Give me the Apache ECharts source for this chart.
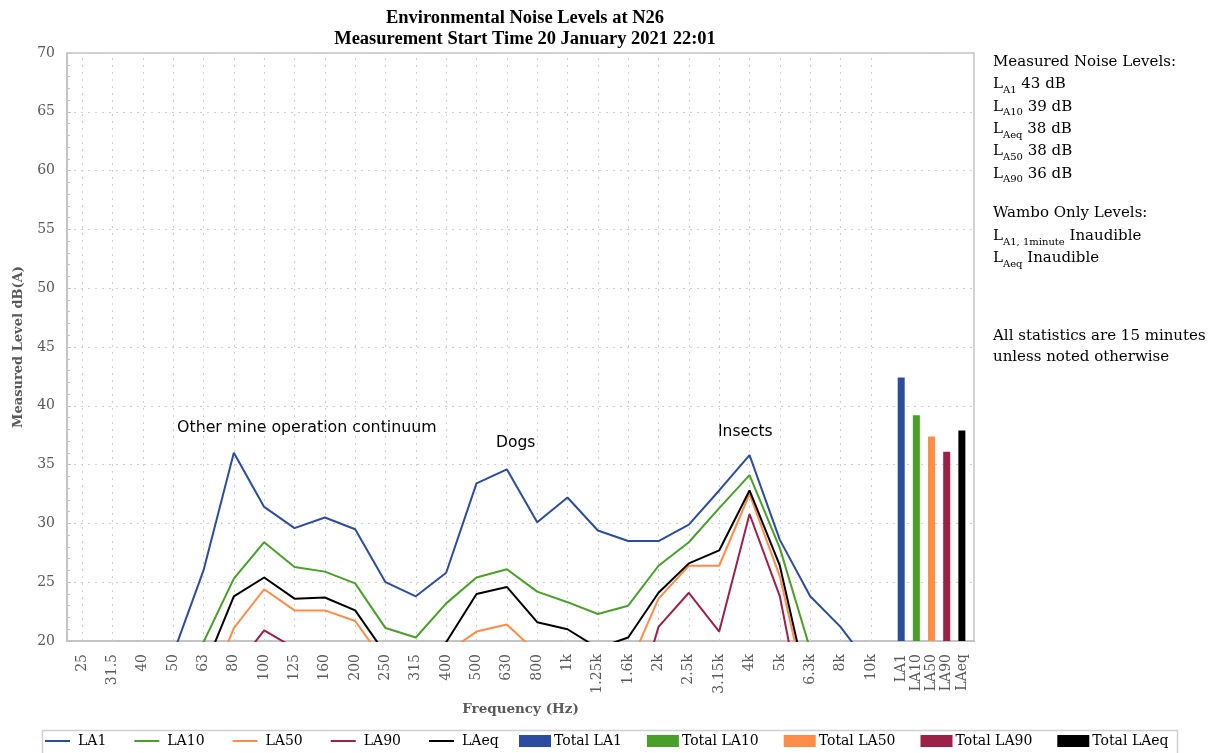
<!DOCTYPE html>
<html>
<head>
<meta charset="utf-8">
<title>Environmental Noise Levels at N26</title>
<script src="https://cdn.jsdelivr.net/npm/echarts@6/dist/echarts.min.js"></script>
<style>
  html, body { margin: 0; padding: 0; background: #fff; }
  #chart { width: 1220px; height: 753px; }
</style>
</head>
<body>
<div id="chart"></div>
<script>
// third-octave bands, then the overall totals
var freqLabels = ['25', '31.5', '40', '50', '63', '80', '100', '125', '160', '200', '250', '315', '400', '500',
  '630', '800', '1k', '1.25k', '1.6k', '2k', '2.5k', '3.15k', '4k', '5k', '6.3k', '8k', '10k'];
var totalLabels = ['LA1', 'LA10', 'LA50', 'LA90', 'LAeq'];

// dB(A) per band (values under 20 sit below the visible axis)
var la1 = [15, 16, 17, 18.9, 26.0, 36.0, 31.4, 29.6, 30.5, 29.5, 25.0, 23.8, 25.8, 33.4,
  34.6, 30.1, 32.2, 29.4, 28.5, 28.5, 29.9, 32.8, 35.8, 28.6, 23.8, 21.2, 17.8];
var la10 = [13, 14, 15, 16, 19.9, 25.3, 28.4, 26.3, 25.9, 24.9, 21.1, 20.3, 23.2, 25.4,
  26.1, 24.2, 23.3, 22.3, 23.0, 26.4, 28.4, 31.3, 34.1, 27.9, 19.3, 16, 14];
var la50 = [11, 12, 12.5, 13.5, 14.7, 21.1, 24.4, 22.6, 22.6, 21.7, 18.1, 17.5, 19.0, 20.8,
  21.4, 19.0, 18.5, 18.0, 17.7, 23.6, 26.4, 26.4, 32.5, 25.5, 14.2, 12.5, 11.5];
var la90 = [9, 10, 11, 12, 14, 17.6, 20.9, 19.4, 18, 17.5, 15, 14, 15, 16.5,
  17, 16, 15.5, 14, 12.4, 21.2, 24.1, 20.8, 30.8, 23.8, 10.6, 9, 8];
var laeq = [12, 13, 14, 15, 17.5, 23.8, 25.4, 23.6, 23.7, 22.6, 18.9, 18.5, 19.9, 24.0,
  24.6, 21.6, 21.0, 19.4, 20.3, 24.1, 26.6, 27.7, 32.8, 26.4, 15.0, 12, 11];

var totals = [42.4, 39.2, 37.4, 36.1, 37.9];

var lineNames = ['LA1', 'LA10', 'LA50', 'LA90', 'LAeq'];
var lineData = [la1, la10, la50, la90, laeq];
var colors = ['#2b4c9f', '#4a9e2a', '#ff8c47', '#9c2149', '#000000'];

var serif = 'DejaVu Serif';
var grey = '#595959';

function bandPos(i) { return i; }
function totalPos(i) { return freqLabels.length + i * 0.5; }

var series = [];
lineNames.forEach(function (name, k) {
  series.push({
    name: name,
    type: 'line',
    symbol: 'none',
    clip: true,
    lineStyle: { color: colors[k], width: 2 },
    itemStyle: { color: colors[k] },
    data: lineData[k].map(function (v, i) { return [bandPos(i), v]; }),
    z: 3
  });
});

// dotted vertical guides on each band
series[0].markLine = {
  silent: true,
  symbol: 'none',
  label: { show: false },
  lineStyle: { color: '#cfcfcf', type: [2, 5], width: 1 },
  data: freqLabels.map(function (f, i) { return { xAxis: bandPos(i) }; }),
  z: 1
};

totalLabels.forEach(function (name, k) {
  series.push({
    name: 'Total ' + name,
    type: 'bar',
    barWidth: 7,
    barGap: '-100%',
    itemStyle: { color: colors[k] },
    data: [[totalPos(k), totals[k]]],
    z: 4
  });
});

function richLine(parts) { return parts.join('\n'); }

var subStyle = { fontFamily: serif, fontSize: 10, lineHeight: 12, verticalAlign: 'bottom', fill: '#000' };

var chart = echarts.init(document.getElementById('chart'));
chart.setOption({
  animation: false,
  backgroundColor: '#fff',
  title: {
    text: 'Environmental Noise Levels at N26\nMeasurement Start Time 20 January 2021 22:01',
    left: 520,
    top: 3,
    textAlign: 'center',
    textStyle: { fontFamily: 'Liberation Serif', fontWeight: 'bold', fontSize: 18.5, lineHeight: 21, color: '#000' }
  },
  grid: {
    left: 67, top: 53, right: 246, bottom: 112,
    show: true, borderColor: '#c4c4c4', borderWidth: 1.5
  },
  legend: [{
    data: lineNames,
    left: 45, top: 734, padding: 0,
    icon: 'rect',
    itemWidth: 25, itemHeight: 2, itemGap: 28,
    textStyle: { fontFamily: serif, fontSize: 14, color: '#000', padding: [0, 0, 0, 3] }
  }, {
    data: totalLabels.map(function (n) { return 'Total ' + n; }),
    left: 519, top: 734, padding: 0,
    icon: 'rect',
    itemWidth: 32, itemHeight: 12, itemGap: 25,
    textStyle: { fontFamily: serif, fontSize: 14, color: '#000', padding: [0, 0, 0, -2] }
  }],
  xAxis: {
    type: 'value',
    min: -0.5, max: 29.4, interval: 0.5,
    name: 'Frequency (Hz)',
    nameLocation: 'middle',
    nameGap: 61,
    nameTextStyle: { fontFamily: serif, fontWeight: 'bold', fontSize: 13.5, color: grey },
    axisLine: { show: true, onZero: false, lineStyle: { color: '#c4c4c4', width: 2 } },
    axisTick: { show: false },
    splitLine: { show: false },
    axisLabel: {
      rotate: 90,
      margin: 13,
      fontFamily: serif, fontSize: 14, color: grey,
      showMinLabel: true, showMaxLabel: false,
      formatter: function (v) {
        var h = Math.round(v * 2) / 2;
        if (h < 0) return '';
        if (h < freqLabels.length) return h % 1 === 0 ? freqLabels[h] : '';
        var k = Math.round((h - freqLabels.length) * 2);
        return totalLabels[k] || '';
      }
    }
  },
  yAxis: {
    type: 'value',
    min: 20, max: 70, interval: 5,
    name: 'Measured Level dB(A)',
    nameLocation: 'middle',
    nameGap: 42,
    nameTextStyle: { fontFamily: serif, fontWeight: 'bold', fontSize: 13, color: grey },
    axisLine: { show: true, onZero: false, lineStyle: { color: '#c4c4c4', width: 2 } },
    axisTick: { show: true, inside: true, length: 4, lineStyle: { color: '#c4c4c4' } },
    minorTick: { show: true, splitNumber: 5, length: 3, lineStyle: { color: '#c4c4c4' } },
    splitLine: { show: true, lineStyle: { color: '#cfcfcf', type: [2, 5], width: 1 } },
    axisLabel: { fontFamily: serif, fontSize: 14, color: grey, margin: 12 }
  },
  graphic: [
    {
      type: 'rect', left: 40, top: 728, silent: true,
      shape: { width: 1135, height: 30 },
      style: { fill: 'none', stroke: '#d0d0d0', lineWidth: 1.5 }
    },
    {
      type: 'text', left: 993, top: 51,
      style: {
        text: richLine([
          'Measured Noise Levels:',
          'L{s|A1} 43 dB',
          'L{s|A10} 39 dB',
          'L{s|Aeq} 38 dB',
          'L{s|A50} 38 dB',
          'L{s|A90} 36 dB'
        ]),
        fontFamily: serif, fontSize: 15, lineHeight: 22.3, fill: '#000',
        rich: { s: subStyle }
      }
    },
    {
      type: 'text', left: 993, top: 202,
      style: {
        text: richLine([
          'Wambo Only Levels:',
          'L{s|A1, 1minute} Inaudible',
          'L{s|Aeq} Inaudible'
        ]),
        fontFamily: serif, fontSize: 15, lineHeight: 22.5, fill: '#000',
        rich: { s: subStyle }
      }
    },
    {
      type: 'text', left: 993, top: 326,
      style: {
        text: 'All statistics are 15 minutes\nunless noted otherwise',
        fontFamily: serif, fontSize: 15, lineHeight: 21, fill: '#000'
      }
    },
    {
      type: 'text', left: 177, top: 420,
      style: { text: 'Other mine operation continuum', fontFamily: 'DejaVu Sans', fontSize: 15.8, fill: '#000' }
    },
    {
      type: 'text', left: 496, top: 435,
      style: { text: 'Dogs', fontFamily: 'DejaVu Sans', fontSize: 15.5, fill: '#000' }
    },
    {
      type: 'text', left: 718, top: 424,
      style: { text: 'Insects', fontFamily: 'DejaVu Sans', fontSize: 15.5, fill: '#000' }
    }
  ],
  series: series
});
</script>
</body>
</html>
